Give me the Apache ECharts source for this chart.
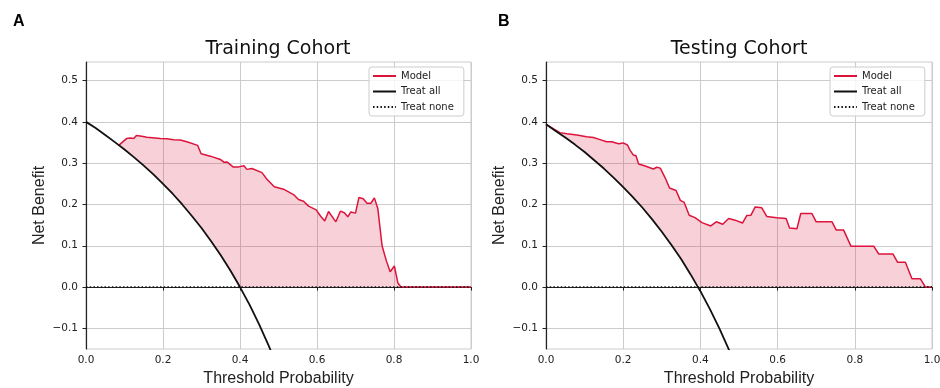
<!DOCTYPE html>
<html>
<head>
<meta charset="utf-8">
<script src="https://cdn.jsdelivr.net/npm/echarts@6/dist/echarts.min.js"></script>
<style>
  html, body { margin: 0; padding: 0; background: #fff; }
  #dca { width: 940px; height: 388px; }
</style>
</head>
<body>
<div id="dca"></div>
<script>
// tick values
var xTicks = [0, 0.2, 0.4, 0.6, 0.8, 1.0];
var yTicks = [-0.1, 0, 0.1, 0.2, 0.3, 0.4, 0.5];

// treat all curves, every 0.025
var treatAllTrain = [
  [0, 0.400], [0.025, 0.385], [0.05, 0.368], [0.075, 0.351], [0.1, 0.333],
  [0.125, 0.314], [0.15, 0.294], [0.175, 0.273], [0.2, 0.250], [0.225, 0.226],
  [0.25, 0.200], [0.275, 0.172], [0.3, 0.143], [0.325, 0.111], [0.35, 0.077],
  [0.375, 0.040], [0.4, 0.000], [0.425, -0.043], [0.45, -0.091], [0.475, -0.143],
  [0.5, -0.200]
];
var treatAllTest = [
  [0, 0.394], [0.025, 0.378], [0.05, 0.362], [0.075, 0.345], [0.1, 0.327],
  [0.125, 0.307], [0.15, 0.287], [0.175, 0.265], [0.2, 0.242], [0.225, 0.218],
  [0.25, 0.192], [0.275, 0.164], [0.3, 0.134], [0.325, 0.102], [0.35, 0.068],
  [0.375, 0.030], [0.4, -0.010], [0.425, -0.054], [0.45, -0.102], [0.475, -0.154],
  [0.5, -0.212]
];
var treatNone = [[0, 0], [1, 0]];

// model net benefit
var modelTrain = [
  [0.085, 0.343], [0.106, 0.360], [0.115, 0.361], [0.124, 0.360], [0.131, 0.367],
  [0.145, 0.365], [0.158, 0.363], [0.193, 0.360], [0.210, 0.359], [0.228, 0.357],
  [0.245, 0.356], [0.262, 0.352], [0.290, 0.343], [0.299, 0.323], [0.323, 0.317],
  [0.349, 0.309], [0.359, 0.302], [0.366, 0.303], [0.382, 0.291], [0.397, 0.291],
  [0.410, 0.294], [0.418, 0.285], [0.431, 0.287], [0.457, 0.277], [0.470, 0.261],
  [0.489, 0.243], [0.513, 0.237], [0.539, 0.224], [0.552, 0.212], [0.565, 0.208],
  [0.578, 0.196], [0.598, 0.187], [0.609, 0.172], [0.620, 0.160], [0.630, 0.183],
  [0.649, 0.158], [0.661, 0.184], [0.671, 0.180], [0.680, 0.170], [0.688, 0.182],
  [0.700, 0.179], [0.709, 0.217], [0.720, 0.214], [0.730, 0.203], [0.740, 0.203],
  [0.749, 0.216], [0.758, 0.190], [0.769, 0.100], [0.780, 0.064], [0.790, 0.037],
  [0.801, 0.051], [0.810, 0.010], [0.818, 0.000], [1.0, 0.000]
];
var modelTest = [
  [0, 0.394], [0.036, 0.374], [0.054, 0.371], [0.080, 0.368], [0.105, 0.364],
  [0.123, 0.362], [0.140, 0.357], [0.157, 0.352], [0.170, 0.352], [0.188, 0.347],
  [0.200, 0.349], [0.211, 0.344], [0.218, 0.331], [0.226, 0.320], [0.233, 0.318],
  [0.240, 0.298], [0.257, 0.293], [0.278, 0.286], [0.287, 0.290], [0.296, 0.288],
  [0.309, 0.264], [0.320, 0.240], [0.337, 0.234], [0.348, 0.210], [0.358, 0.205],
  [0.371, 0.174], [0.386, 0.168], [0.404, 0.156], [0.427, 0.148], [0.441, 0.158],
  [0.458, 0.152], [0.473, 0.166], [0.490, 0.162], [0.509, 0.155], [0.520, 0.173],
  [0.531, 0.174], [0.542, 0.194], [0.559, 0.192], [0.572, 0.171], [0.598, 0.168],
  [0.622, 0.166], [0.631, 0.143], [0.650, 0.141], [0.660, 0.178], [0.689, 0.178],
  [0.700, 0.158], [0.741, 0.158], [0.752, 0.138], [0.771, 0.138], [0.790, 0.099],
  [0.849, 0.099], [0.862, 0.080], [0.899, 0.080], [0.911, 0.060], [0.931, 0.060],
  [0.948, 0.020], [0.970, 0.020], [0.983, 0.000], [1.0, 0.000]
];

var RED = '#dc143c';
var PINK = 'rgba(220,20,60,0.2)';
var SANS = 'DejaVu Sans';
var ARIAL = 'Liberation Sans';

var chart = echarts.init(document.getElementById('dca'));

// pink area between model and max(treat all, 0)
function fillItem(model, treatAll) {
  return function (params, api) {
    var start = model[0][0];
    var lower = treatAll.filter(function (p) { return p[0] > start; })
      .map(function (p) { return [p[0], Math.max(p[1], 0)]; });
    lower.push([1, 0]);
    lower.reverse();
    var pts = model.concat(lower).map(function (p) { return api.coord(p); });
    return { type: 'polygon', shape: { points: pts }, style: { fill: PINK }, silent: true };
  };
}

function fmt(v) {
  if (Math.abs(v * 10 - Math.round(v * 10)) > 1e-6) return '';
  return v.toFixed(1).replace('-', '\u2212');
}

function xAxis(i) {
  return {
    gridIndex: i, type: 'value', min: 0, max: 1, interval: 0.2,
    name: 'Threshold Probability', nameLocation: 'middle', nameGap: 20,
    nameTextStyle: { fontFamily: ARIAL, fontSize: 16, color: '#222' },
    axisLine: { lineStyle: { color: '#222', width: 1.2 } },
    axisTick: { show: true, length: 3.5, lineStyle: { color: '#222' } },
    axisLabel: { formatter: fmt, fontFamily: SANS, fontSize: 10.5, color: '#222', margin: 6 },
    splitLine: { show: true, lineStyle: { color: '#cccccc', width: 1 } }
  };
}
function yAxis(i) {
  return {
    gridIndex: i, type: 'value', min: -0.15, max: 0.545,
    name: 'Net Benefit', nameLocation: 'middle', nameGap: 38,
    nameTextStyle: { fontFamily: ARIAL, fontSize: 16, color: '#222' },
    axisLine: { lineStyle: { color: '#222', width: 1.2 } },
    axisTick: { show: true, length: 3.5, lineStyle: { color: '#222' }, customValues: yTicks },
    axisLabel: { formatter: fmt, fontFamily: SANS, fontSize: 10.5, color: '#222', margin: 8, customValues: yTicks },
    splitLine: { show: true, lineStyle: { color: '#cccccc', width: 1 } }
  };
}
function legend(left) {
  return {
    left: left, top: 67, orient: 'vertical',
    data: ['Model', 'Treat all', 'Treat none'],
    itemWidth: 23, itemHeight: 10, itemGap: 5.5, itemTextGap: 9,
    padding: [4, 10, 4, 3],
    itemStyle: { opacity: 0, borderWidth: 0 },
    backgroundColor: 'rgba(255,255,255,0.8)',
    borderColor: '#cccccc', borderWidth: 1, borderRadius: 3,
    textStyle: { fontFamily: SANS, fontSize: 10, color: '#222' }
  };
}
function panel(i, model, treatAll) {
  return [
    { name: 'fill', type: 'custom', xAxisIndex: i, yAxisIndex: i, z: 1,
      data: [[0, 0]], renderItem: fillItem(model, treatAll), silent: true },
    { name: 'Model', type: 'line', xAxisIndex: i, yAxisIndex: i, z: 3, data: model,
      symbol: 'none', lineStyle: { color: RED, width: 1.5 }, itemStyle: { color: RED } },
    { name: 'Treat all', type: 'line', xAxisIndex: i, yAxisIndex: i, z: 3, data: treatAll,
      symbol: 'none', lineStyle: { color: '#111', width: 1.8 }, itemStyle: { color: '#111' } },
    { name: 'Treat none', type: 'line', xAxisIndex: i, yAxisIndex: i, z: 4, data: treatNone,
      symbol: 'none', lineStyle: { color: '#111', width: 1.5, type: [1.5, 2.2] }, itemStyle: { color: '#111' } }
  ];
}

var option = {
  animation: false,
  title: [
    { text: 'Training Cohort', left: 278, top: 40, textAlign: 'center', padding: 0,
      textStyle: { fontFamily: SANS, fontSize: 19, fontWeight: 'normal', color: '#111' } },
    { text: 'Testing Cohort', left: 739, top: 40, textAlign: 'center', padding: 0,
      textStyle: { fontFamily: SANS, fontSize: 19, fontWeight: 'normal', color: '#111' } },
    { text: 'A', left: 13, top: 14, padding: 0,
      textStyle: { fontFamily: ARIAL, fontSize: 16, fontWeight: 'bold', color: '#000' } },
    { text: 'B', left: 498, top: 14, padding: 0,
      textStyle: { fontFamily: ARIAL, fontSize: 16, fontWeight: 'bold', color: '#000' } }
  ],
  grid: [
    { left: 86, top: 62, width: 385, height: 287, outerBoundsMode: 'none', containLabel: false,
      show: true, borderColor: '#cccccc', borderWidth: 1 },
    { left: 546, top: 62, width: 386, height: 287, outerBoundsMode: 'none', containLabel: false,
      show: true, borderColor: '#cccccc', borderWidth: 1 }
  ],
  legend: [legend(369), legend(830)],
  xAxis: [xAxis(0), xAxis(1)],
  yAxis: [yAxis(0), yAxis(1)],
  series: panel(0, modelTrain, treatAllTrain).concat(panel(1, modelTest, treatAllTest))
};
chart.setOption(option);
</script>
</body>
</html>
